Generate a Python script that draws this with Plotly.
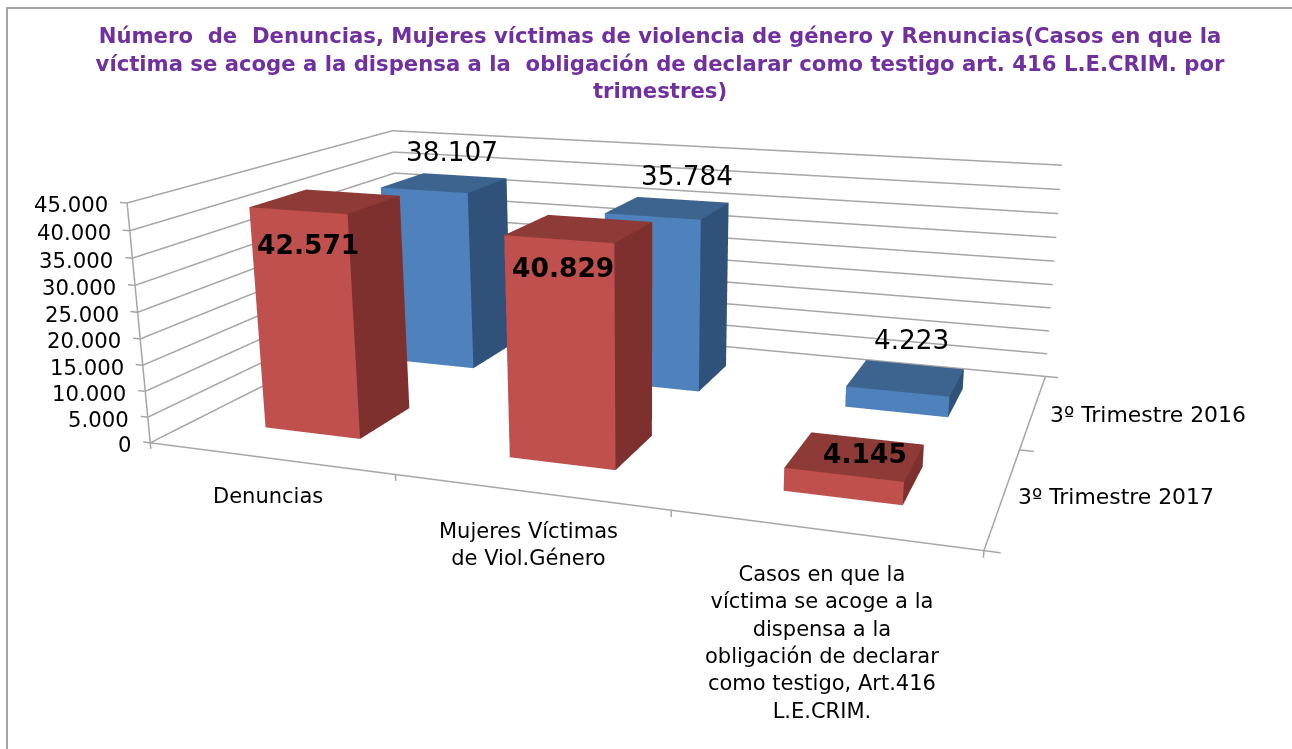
import math
import plotly.graph_objects as go

categories = ["Denuncias", "Mujeres Víctimas<br>de Viol.Género",
              "Casos en que la<br>víctima se acoge a la<br>dispensa a la<br>obligación de declarar<br>como testigo, Art.416<br>L.E.CRIM."]
series_names = ["3º Trimestre 2017", "3º Trimestre 2016"]
values_2017 = [42571, 40829, 4145]
values_2016 = [38107, 35784, 4223]
labels_2017 = ["42.571", "40.829", "4.145"]
labels_2016 = ["38.107", "35.784", "4.223"]
z_ticks = [0, 5000, 10000, 15000, 20000, 25000, 30000, 35000, 40000, 45000]
z_labels = ["0", "5.000", "10.000", "15.000", "20.000", "25.000", "30.000", "35.000", "40.000", "45.000"]
title = ("<b>Número  de  Denuncias, Mujeres víctimas de violencia de género y Renuncias(Casos en que la<br>"
         "víctima se acoge a la dispensa a la  obligación de declarar como testigo art. 416 L.E.CRIM. por<br>"
         "trimestres)</b>")

RED = ("#C0504D", "#7D302D", "#8E3A37")
BLUE = ("#4F81BD", "#30527A", "#3C648F")
BAR_W = 0.40
BAR_D = 0.40
GRID = "#A6A6A6"
FONT = "DejaVu Sans"
NX, NY, ZMAX = len(categories), len(series_names), z_ticks[-1]
FOCAL = 1553.5

fig = go.Figure()

def add_bar(ci, si, val, colors):
    x0, x1 = ci + .5 - BAR_W / 2, ci + .5 + BAR_W / 2
    y0, y1 = si + .5 - BAR_D / 2, si + .5 + BAR_D / 2
    xs = [x0, x1, x1, x0, x0, x1, x1, x0]
    ys = [y0, y0, y1, y1, y0, y0, y1, y1]
    zs = [0, 0, 0, 0, val, val, val, val]
    tris = [(0, 1, 5, 0), (0, 5, 4, 0), (1, 2, 6, 1), (1, 6, 5, 1), (4, 5, 6, 2), (4, 6, 7, 2),
            (3, 2, 6, 1), (3, 6, 7, 1), (0, 3, 7, 1), (0, 7, 4, 1), (0, 1, 2, 1), (0, 2, 3, 1)]
    fig.add_trace(go.Mesh3d(x=xs, y=ys, z=zs,
                            i=[t[0] for t in tris], j=[t[1] for t in tris], k=[t[2] for t in tris],
                            facecolor=[colors[t[3]] for t in tris], flatshading=True,
                            lighting=dict(ambient=1, diffuse=0, specular=0, fresnel=0, roughness=1),
                            hoverinfo="skip", showscale=False))

for i, v in enumerate(values_2016):
    add_bar(i, 1, v, BLUE)
for i, v in enumerate(values_2017):
    add_bar(i, 0, v, RED)

def line(xs, ys, zs):
    fig.add_trace(go.Scatter3d(x=xs, y=ys, z=zs, mode="lines", line=dict(color=GRID, width=3),
                               hoverinfo="skip", showlegend=False))

for z in z_ticks:
    line([0, 0], [0, NY], [z, z])
    line([0, NX], [NY, NY], [z, z])
    line([0, -0.03], [0, 0], [z, z])
line([0, 0], [0, 0], [0, ZMAX])
line([0, NX], [0, 0], [0, 0])
line([NX, NX], [0, NY], [0, 0])
for i in range(NX + 1):
    line([i, i], [0, 0], [0, -1200])
for s in range(NY + 1):
    line([NX, NX + 0.05], [s, s], [0, 0])

ann = []
def note(x, y, z, text, size=16, bold=False, xanchor="center", yanchor="middle", xs=0, ys=0):
    ann.append(dict(x=x, y=y, z=z, text=f"<b>{text}</b>" if bold else text, showarrow=False,
                    font=dict(family=FONT, size=size, color="black"), xanchor=xanchor, yanchor=yanchor,
                    xshift=xs, yshift=ys, align="center"))

for z, t in zip(z_ticks, z_labels):
    note(0, 0, z, t, size=21.2, xanchor="right", xs=-17, ys=-2)
cat_shift = [-24, -25, -30]
for i, c in enumerate(categories):
    note(i + .5, 0, 0, c, size=21, yanchor="top", xs=-1, ys=cat_shift[i])
note(NX, 0.5, 0, series_names[0], size=21.9, xanchor="left", xs=13, ys=-1)
note(NX, 1.5, 0, series_names[1], size=21.9, xanchor="left", xs=15, ys=-4)
red_shift = [(-18, -43), (-17, -39), (9, 3)]
blue_shift = [(7, 31), (19, 32), (5, 38)]
for i, (v, t) in enumerate(zip(values_2017, labels_2017)):
    note(i + .5, 0.5, v, t, size=26.5, bold=True, xs=red_shift[i][0], ys=red_shift[i][1])
for i, (v, t) in enumerate(zip(values_2016, labels_2016)):
    note(i + .5, 1.5, v, t, size=26.3, xs=blue_shift[i][0], ys=blue_shift[i][1])

# camera fitted for the unpadded box, moved for the padded axis ranges
sx, sy, sz = 3.396 / NX, 2.196 / NY, 1.0 / ZMAX
xr, yr, zr = [-0.1, NX + 0.1], [-0.1, NY + 0.03], [-2000, ZMAX + 1000]
dx = (sum(xr) / 2 - NX / 2) * sx
dy = (sum(yr) / 2 - NY / 2) * sy
dz = (sum(zr) / 2 - ZMAX / 2) * sz

hidden = dict(visible=False, showgrid=False, zeroline=False, showbackground=False, showspikes=False)
fig.update_layout(
    width=1292, height=749, autosize=False, margin=dict(l=0, r=0, t=0, b=0),
    paper_bgcolor="white", showlegend=False,
    title=dict(text=title, x=660 / 1292, xanchor="center", y=1 - 43 / 749, yanchor="top",
               font=dict(family=FONT, size=21.2, color="#7030A0")),
    shapes=[dict(type="rect", xref="paper", yref="paper", x0=7 / 1292, x1=1.01, y0=-0.01, y1=1 - 8 / 749,
                 line=dict(color="#A6A6A6", width=2))],
    scene=dict(
        domain=dict(x=[0, 1], y=[0, 1]),
        xaxis=dict(hidden, range=xr), yaxis=dict(hidden, range=yr), zaxis=dict(hidden, range=zr),
        aspectmode="manual",
        aspectratio=dict(x=(xr[1] - xr[0]) * sx, y=(yr[1] - yr[0]) * sy, z=(zr[1] - zr[0]) * sz),
        camera=dict(eye=dict(x=2.224 - dx, y=-6.146 - dy, z=1.616 - dz),
                    center=dict(x=0.202 - dx, y=-0.335 - dy, z=-0.233 - dz),
                    up=dict(x=-0.224, y=0.641, z=1),
                    projection=dict(type="perspective")),
        annotations=ann,
    ),
)
post = """
document.body.style.margin='0';
var gd=document.getElementById('{plot_id}');
var sc=gd._fullLayout.scene._scene;
sc.glplot.fovy=2*Math.atan(374.5/%f);
sc.glplot.redraw();
""" % FOCAL
fig.write_html("out.html", post_script=post, config=dict(displayModeBar=False))
